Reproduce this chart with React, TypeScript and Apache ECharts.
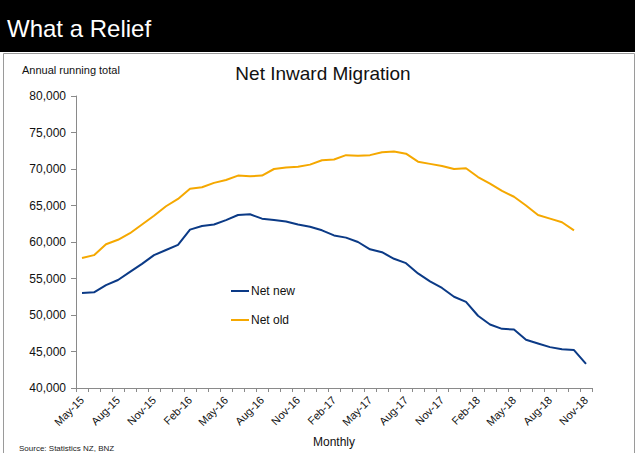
import React, { useEffect, useRef } from "react";
import * as echarts from "echarts";

const MONTHS = ["Jan", "Feb", "Mar", "Apr", "May", "Jun", "Jul", "Aug", "Sep", "Oct", "Nov", "Dec"];
// Monthly categories May-15 .. Nov-18
const categories: string[] = [];
for (let y = 15, m = 4; y < 18 || (y === 18 && m <= 10); ) {
  categories.push(`${MONTHS[m]}-${y}`);
  m++;
  if (m === 12) { m = 0; y++; }
}

const netNew = [
  53000, 53100, 54100, 54800, 55900, 57000, 58200, 58900, 59600, 61700,
  62200, 62400, 63000, 63700, 63800, 63200, 63000, 62800, 62400, 62100,
  61600, 60900, 60600, 60000, 59000, 58600, 57700, 57100, 55700, 54600,
  53700, 52500, 51800, 49900, 48700, 48100, 48000, 46600, 46100, 45600,
  45300, 45200, 43300,
];

const netOld = [
  57800, 58200, 59700, 60300, 61200, 62400, 63600, 64900, 65900, 67300,
  67500, 68100, 68500, 69100, 69000, 69100, 70000, 70200, 70300, 70600,
  71200, 71300, 71900, 71800, 71900, 72300, 72400, 72100, 71000, 70700,
  70400, 70000, 70100, 68900, 68000, 67000, 66200, 65000, 63700, 63200,
  62700, 61600,
];

const yTicks = { min: 40000, max: 80000, interval: 5000 };

const FONT = "'Liberation Sans', Arial, sans-serif";

export default function App() {
  const ref = useRef<HTMLDivElement>(null);
  useEffect(() => {
    if (!ref.current) return;
    const chart = echarts.init(ref.current, null, { renderer: "svg" });
    chart.setOption({
      animation: false,
      backgroundColor: "#ffffff",
      textStyle: { fontFamily: FONT },
      graphic: [
        { type: "rect", left: 0, top: 0, shape: { x: 0, y: 0, width: 635, height: 52 }, style: { fill: "#000000" }, silent: true },
        { type: "rect", shape: { x: 3.5, y: 53.5, width: 631, height: 400 }, style: { fill: "none", stroke: "#9a9a9a", lineWidth: 1 }, silent: true },
        { type: "text", x: 7, y: 28, style: { text: "What a Relief", fill: "#ffffff", font: `24px ${FONT}`, verticalAlign: "middle" } },
        { type: "text", x: 22, y: 70, style: { text: "Annual running total", fill: "#111", font: `11px ${FONT}`, verticalAlign: "middle" } },
        { type: "text", x: 323, y: 73, style: { text: "Net Inward Migration", fill: "#111", font: `19px ${FONT}`, align: "center", verticalAlign: "middle" } },
        { type: "text", x: 19, y: 448, style: { text: "Source: Statistics NZ, BNZ", fill: "#222", font: `8px ${FONT}`, verticalAlign: "middle" } },
      ],
      legend: {
        orient: "vertical",
        left: 226,
        top: 280,
        itemWidth: 18,
        itemHeight: 2,
        itemGap: 17,
        icon: "rect",
        textStyle: { fontSize: 12, color: "#111", fontFamily: FONT, padding: [0, 0, 0, -3] },
        data: ["Net new", "Net old"],
      },
      grid: { left: 76, right: 43, top: 96, bottom: 65, containLabel: false },
      xAxis: {
        type: "category",
        data: categories,
        boundaryGap: true,
        name: "Monthly",
        nameLocation: "middle",
        nameGap: 48,
        nameTextStyle: { fontSize: 12, color: "#111", fontFamily: FONT },
        axisLine: { lineStyle: { color: "#8a8a8a", width: 1 } },
        axisTick: { show: true, interval: 0, length: 4, alignWithLabel: false, lineStyle: { color: "#8a8a8a" } },
        axisLabel: { interval: 2, rotate: 45, margin: 10, fontSize: 11, color: "#111", fontFamily: FONT },
        splitLine: { show: false },
      },
      yAxis: {
        type: "value",
        min: yTicks.min,
        max: yTicks.max,
        interval: yTicks.interval,
        axisLine: { show: true, lineStyle: { color: "#8a8a8a", width: 1 } },
        axisTick: { show: true, length: 5, inside: false, lineStyle: { color: "#8a8a8a" } },
        axisLabel: {
          fontSize: 12,
          color: "#111",
          margin: 10,
          fontFamily: FONT,
          formatter: (v: number) => v.toLocaleString("en-US"),
        },
        splitLine: { show: false },
      },
      series: [
        {
          name: "Net new",
          type: "line",
          data: netNew,
          showSymbol: false,
          symbol: "none",
          lineStyle: { color: "#0B3A86", width: 2 },
          itemStyle: { color: "#0B3A86" },
        },
        {
          name: "Net old",
          type: "line",
          data: netOld,
          showSymbol: false,
          symbol: "none",
          lineStyle: { color: "#F5A800", width: 2 },
          itemStyle: { color: "#F5A800" },
        },
      ],
    });
    return () => chart.dispose();
  }, []);
  return (
    <div
      ref={ref}
      style={{ position: "absolute", left: 0, top: 0, width: 635, height: 453 }}
    />
  );
}
